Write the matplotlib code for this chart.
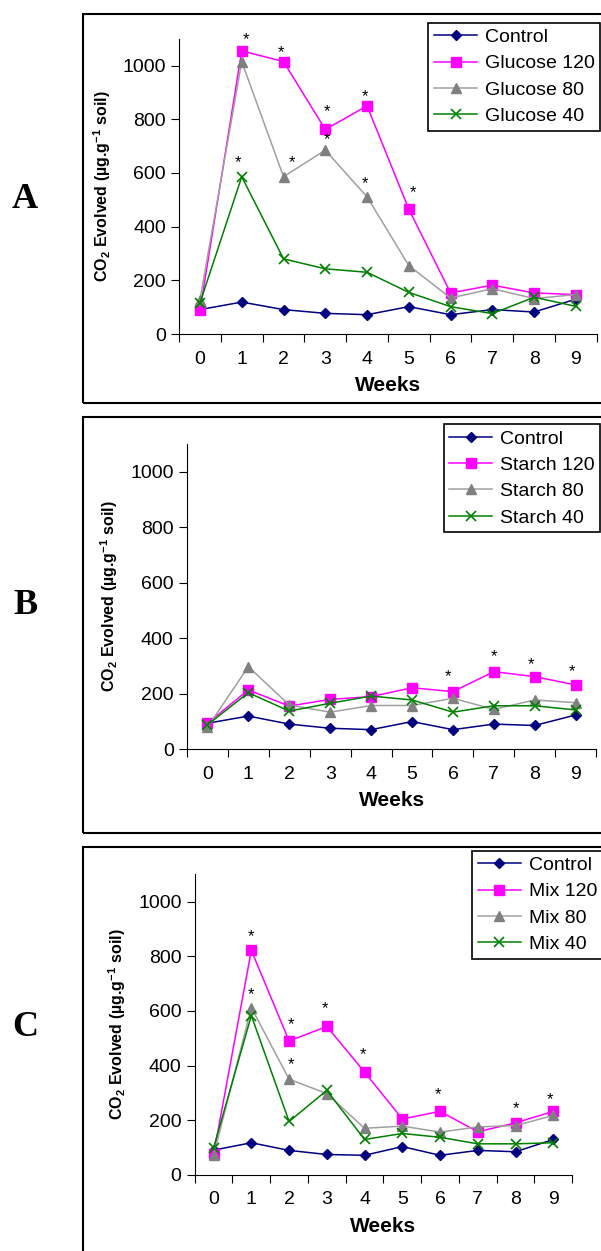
import numpy as np
import matplotlib.pyplot as plt
from matplotlib.patches import Rectangle

plt.rcParams['font.family'] = ['Liberation Sans', 'DejaVu Sans']
plt.rcParams['mathtext.default'] = 'regular'

weeks = [0, 1, 2, 3, 4, 5, 6, 7, 8, 9]
week_labels = ['0', '1', '2', '3', '4', '5', '6', '7', '8', '9']

# control is the same soil in all three panels
control_a = [91, 119, 91, 77, 72, 102, 72, 91, 82, 130]
control_b = [94, 120, 91, 76, 71, 100, 71, 91, 86, 124]
control_c = [90, 117, 89, 74, 71, 103, 71, 89, 84, 129]

# panel A - glucose
glucose_120 = [88, 1055, 1015, 762, 850, 465, 153, 182, 153, 147]
glucose_80 = [128, 1015, 586, 685, 511, 255, 134, 169, 132, 147]
glucose_40 = [116, 586, 280, 243, 230, 155, 102, 76, 137, 103]
stars_a_x = [1.1, 1.95, 3.05, 3.95, 5.1, 2.2, 3.05, 3.95, 0.9]
stars_a_y = [1098, 1048, 827, 883, 526, 638, 725, 560, 638]

# panel B - starch
starch_120 = [94, 214, 156, 180, 190, 222, 208, 280, 262, 232]
starch_80 = [79, 298, 160, 134, 158, 158, 184, 144, 178, 168]
starch_40 = [88, 204, 138, 166, 192, 178, 134, 157, 157, 142]
stars_b_x = [5.88, 7.0, 7.9, 8.9]
stars_b_y = [262, 334, 304, 280]

# panel C - mix
mix_120 = [74, 822, 490, 543, 376, 204, 232, 157, 190, 232]
mix_80 = [71, 612, 350, 297, 170, 178, 156, 175, 180, 217]
mix_40 = [99, 583, 195, 309, 129, 151, 137, 113, 113, 117]
stars_c_x = [1.0, 1.0, 2.05, 2.05, 2.95, 3.95, 5.95, 8.0, 8.9]
stars_c_y = [871, 658, 549, 403, 607, 439, 293, 241, 275]


def draw_panel(ax, control, s120, s80, s40, names, sx, sy, leg_xy):
    x = np.array(weeks)
    ax.plot(x, control, color='#000080', marker='D', ms=5.5, lw=1.1,
            label='Control')
    ax.plot(x, s120, color='#ff00ff', marker='s', ms=6.5, lw=1.1,
            label=names[0])
    ax.plot(x, s80, color='#a0a0a0', marker='^', ms=7.5, mfc='#808080',
            mec='#808080', lw=1.1, label=names[1])
    ax.plot(x, s40, color='#008000', marker='x', ms=7.5, mew=1.2, lw=1.1,
            label=names[2])
    for a, b in zip(sx, sy):
        ax.text(a, b, '*', ha='center', va='center', fontsize=12)

    ax.set_xlim(-0.5, 9.5)
    ax.set_ylim(0, 1100)
    ax.set_yticks([0, 200, 400, 600, 800, 1000])
    ax.set_xticks(np.arange(-0.5, 10, 1))
    ax.set_xticklabels([])
    ax.set_xticks(x, minor=True)
    ax.set_xticklabels(week_labels, minor=True)
    ax.tick_params(axis='x', which='minor', length=0, pad=12, labelsize=14)
    ax.tick_params(axis='x', which='major', length=6, direction='out')
    ax.tick_params(axis='y', length=6, labelsize=14)
    ax.spines['top'].set_visible(False)
    ax.spines['right'].set_visible(False)
    ax.set_xlabel('Weeks', fontsize=15, fontweight='bold', labelpad=6)
    ax.set_ylabel('CO$_2$ Evolved (µg.g$^{-1}$ soil)', fontsize=11.5,
                  fontweight='bold', labelpad=7)
    leg = ax.legend(loc='upper right', bbox_to_anchor=leg_xy,
                    bbox_transform=fig.transFigure, fontsize=14,
                    handlelength=2.2, labelspacing=0.45, borderpad=0.3,
                    handletextpad=0.4, borderaxespad=0, fancybox=False,
                    framealpha=1)
    leg.get_frame().set_edgecolor('black')
    leg.get_frame().set_linewidth(1.2)


fig = plt.figure(figsize=(6.01, 12.51), dpi=100)

# outer boxes around each panel
for y0, h in [(0.678, 0.311), (0.334, 0.333), (-0.05, 0.373)]:
    fig.patches.append(Rectangle((0.138, y0), 1.0, h, transform=fig.transFigure,
                                 fill=False, edgecolor='black', lw=1.5))

ax_a = fig.add_axes([0.298, 0.733, 0.695, 0.236])
draw_panel(ax_a, control_a, glucose_120, glucose_80, glucose_40,
           ['Glucose 120', 'Glucose 80', 'Glucose 40'],
           stars_a_x, stars_a_y, (0.999, 0.982))

ax_b = fig.add_axes([0.311, 0.401, 0.681, 0.244])
draw_panel(ax_b, control_b, starch_120, starch_80, starch_40,
           ['Starch 120', 'Starch 80', 'Starch 40'],
           stars_b_x, stars_b_y, (0.999, 0.661))

ax_c = fig.add_axes([0.324, 0.061, 0.628, 0.240])
draw_panel(ax_c, control_c, mix_120, mix_80, mix_40,
           ['Mix 120', 'Mix 80', 'Mix 40'],
           stars_c_x, stars_c_y, (1.003, 0.320))

for letter, yy in [('A', 200), ('B', 605), ('C', 1028)]:
    fig.text(25 / 601, 1 - yy / 1251, letter, ha='center', va='center',
             fontsize=26, fontweight='bold', family='Liberation Serif')

fig.savefig('out.png', dpi=100)
